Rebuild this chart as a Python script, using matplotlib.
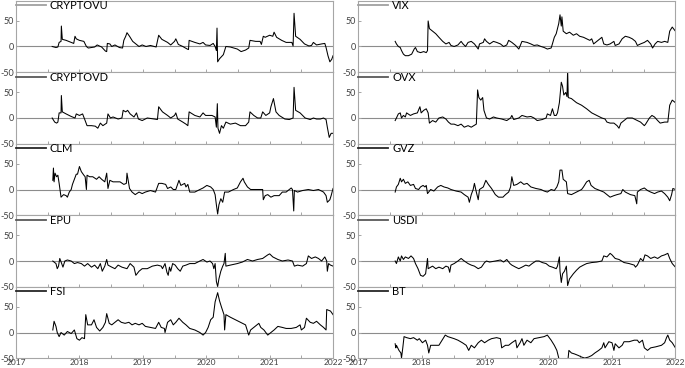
import matplotlib.pyplot as plt
import numpy as np

plt.rcParams['font.family'] = ['Lato', 'DejaVu Sans']
plt.rcParams['axes.unicode_minus'] = False

# (decimal year, value)
cryptovu = [(2017.57, 0), (2017.63, -2), (2017.66, -1), (2017.68, 8), (2017.71, 10), (2017.715, 40),
            (2017.73, 14), (2017.79, 12), (2017.87, 8), (2017.91, 6), (2017.93, 20), (2017.95, 15),
            (2018.00, 12), (2018.07, 10), (2018.11, 0), (2018.14, -3), (2018.24, -1), (2018.28, 3),
            (2018.35, -1), (2018.41, -9), (2018.43, -10), (2018.44, 6), (2018.48, 5), (2018.51, 0),
            (2018.56, 3), (2018.63, -2), (2018.68, -3), (2018.70, 12), (2018.73, 20), (2018.75, 27),
            (2018.79, 20), (2018.84, 10), (2018.89, 5), (2018.94, 0), (2018.99, 3), (2019.05, 0),
            (2019.12, 2), (2019.21, -1), (2019.25, 22), (2019.30, 14), (2019.39, 8), (2019.44, 3),
            (2019.50, 10), (2019.52, 15), (2019.56, 4), (2019.63, 0), (2019.70, -5), (2019.72, -6),
            (2019.73, 12), (2019.82, 8), (2019.90, 5), (2019.95, 8), (2019.99, 3), (2020.06, 2),
            (2020.11, 6), (2020.14, 0), (2020.16, -8), (2020.17, 36), (2020.18, -30), (2020.21, -24),
            (2020.27, -16), (2020.31, 0), (2020.38, -1), (2020.49, -5), (2020.55, -10), (2020.62, -7),
            (2020.67, -3), (2020.69, 12), (2020.78, 10), (2020.85, 10), (2020.87, 4), (2020.90, 20),
            (2020.93, 18), (2021.00, 22), (2021.05, 20), (2021.07, 28), (2021.11, 18), (2021.19, 12),
            (2021.26, 8), (2021.35, 8), (2021.37, 1), (2021.385, 65), (2021.41, 20), (2021.48, 14),
            (2021.55, 5), (2021.62, 1), (2021.66, 2), (2021.69, 8), (2021.74, 3), (2021.82, 5),
            (2021.87, 6), (2021.89, -2), (2021.92, -18), (2021.95, -30), (2021.98, -25), (2022.00, -18)]

cryptovd = [(2017.57, 0), (2017.61, -8), (2017.64, -10), (2017.66, -8), (2017.68, 10), (2017.71, 10),
            (2017.715, 44), (2017.73, 12), (2017.79, 8), (2017.87, 3), (2017.93, 0), (2017.95, 8),
            (2018.00, 5), (2018.05, 8), (2018.09, -5), (2018.12, -15), (2018.19, -15), (2018.25, -16),
            (2018.29, -20), (2018.33, -10), (2018.37, -15), (2018.43, -10), (2018.45, 8), (2018.49, 0),
            (2018.53, 2), (2018.61, -2), (2018.67, 0), (2018.69, 15), (2018.73, 12), (2018.76, 15),
            (2018.80, 8), (2018.86, 2), (2018.90, 10), (2018.93, -2), (2018.99, -5), (2019.07, 0),
            (2019.18, -2), (2019.23, -3), (2019.25, 22), (2019.31, 12), (2019.39, 5), (2019.44, 0),
            (2019.50, 5), (2019.52, 10), (2019.55, -2), (2019.63, -8), (2019.68, -12), (2019.71, -15),
            (2019.73, 12), (2019.82, 5), (2019.90, 2), (2019.95, 10), (2019.99, 5), (2020.09, 5),
            (2020.14, 2), (2020.16, -18), (2020.175, 28), (2020.185, -20), (2020.21, -30), (2020.24, -15),
            (2020.27, -20), (2020.31, -8), (2020.38, -12), (2020.46, -10), (2020.54, -15), (2020.62, -15),
            (2020.67, -8), (2020.69, 12), (2020.75, 5), (2020.81, 0), (2020.86, 0), (2020.89, 12),
            (2020.94, 5), (2021.00, 10), (2021.02, 22), (2021.06, 38), (2021.10, 12), (2021.15, 5),
            (2021.24, -2), (2021.31, -3), (2021.37, 0), (2021.385, 60), (2021.41, 15), (2021.48, 10),
            (2021.56, 0), (2021.64, -3), (2021.69, 0), (2021.74, -2), (2021.80, -2), (2021.85, 0),
            (2021.89, -3), (2021.91, -18), (2021.94, -38), (2021.97, -30), (2022.00, -30)]

clm = [(2017.58, 18), (2017.59, 42), (2017.60, 15), (2017.615, 32), (2017.64, 25), (2017.66, 28),
       (2017.68, 12), (2017.71, -15), (2017.75, -10), (2017.79, -12), (2017.81, -15), (2017.84, -5),
       (2017.87, 0), (2017.89, 10), (2017.92, 20), (2017.95, 30), (2017.97, 30), (2018.00, 45),
       (2018.03, 35), (2018.07, 28), (2018.09, 25), (2018.11, 0), (2018.12, 28), (2018.16, 25),
       (2018.21, 25), (2018.27, 20), (2018.31, 25), (2018.35, 20), (2018.40, 15), (2018.43, 32),
       (2018.45, 2), (2018.48, 18), (2018.53, 15), (2018.59, 15), (2018.64, 15), (2018.70, 10),
       (2018.74, 12), (2018.75, 32), (2018.79, 2), (2018.83, -5), (2018.88, -10), (2018.94, -5),
       (2018.99, -8), (2019.04, -5), (2019.12, -2), (2019.20, -5), (2019.25, 12), (2019.30, 12),
       (2019.36, 10), (2019.39, 2), (2019.44, 5), (2019.48, 0), (2019.52, 0), (2019.57, 18),
       (2019.60, 8), (2019.66, 12), (2019.68, 5), (2019.71, 10), (2019.74, -5), (2019.82, -5),
       (2019.90, 0), (2019.95, 3), (2020.01, 8), (2020.07, 5), (2020.11, 0), (2020.14, -10),
       (2020.16, -30), (2020.18, -48), (2020.20, -30), (2020.23, -18), (2020.26, -25), (2020.29, -5),
       (2020.35, -5), (2020.43, 0), (2020.49, 3), (2020.54, 15), (2020.58, 22), (2020.60, 15),
       (2020.65, 5), (2020.70, 0), (2020.81, 0), (2020.89, 0), (2020.90, -20), (2020.93, -12),
       (2020.97, -10), (2021.02, -15), (2021.07, -12), (2021.15, -12), (2021.20, -5), (2021.26, -5),
       (2021.34, 3), (2021.36, 0), (2021.38, -42), (2021.39, -2), (2021.44, -5), (2021.52, -2),
       (2021.61, 0), (2021.69, -2), (2021.77, 0), (2021.85, -5), (2021.89, -12), (2021.91, -25),
       (2021.95, -20), (2021.97, -12), (2022.00, 2)]

epu = [(2017.58, 0), (2017.63, -5), (2017.65, -15), (2017.67, -10), (2017.69, 5), (2017.72, -5),
       (2017.74, -12), (2017.77, 0), (2017.81, 2), (2017.87, 0), (2017.92, -5), (2017.97, -3),
       (2018.03, -5), (2018.08, -10), (2018.13, -5), (2018.19, -12), (2018.24, -8), (2018.29, -15),
       (2018.33, -5), (2018.36, -20), (2018.40, -10), (2018.43, 3), (2018.45, -8), (2018.51, -12),
       (2018.56, -15), (2018.61, -8), (2018.67, -12), (2018.75, -15), (2018.80, -5), (2018.86, -12),
       (2018.89, -28), (2018.94, -20), (2018.99, -15), (2019.07, -15), (2019.15, -10), (2019.23, -8),
       (2019.29, -10), (2019.31, -15), (2019.35, -5), (2019.38, -22), (2019.40, -28), (2019.42, -12),
       (2019.44, -20), (2019.47, -5), (2019.51, -8), (2019.55, -15), (2019.59, -20), (2019.63, -10),
       (2019.68, -8), (2019.74, -5), (2019.82, -5), (2019.90, 0), (2019.95, 3), (2020.01, -2),
       (2020.06, 0), (2020.10, -5), (2020.12, -15), (2020.14, -5), (2020.16, -40), (2020.18, -50),
       (2020.20, -35), (2020.23, -20), (2020.26, -10), (2020.28, -5), (2020.30, 15), (2020.31, -10),
       (2020.38, -8), (2020.49, -5), (2020.57, -2), (2020.65, 3), (2020.73, 0), (2020.81, 3),
       (2020.89, 5), (2020.97, 12), (2021.00, 14), (2021.05, 8), (2021.13, 3), (2021.20, 0),
       (2021.29, 2), (2021.36, 0), (2021.39, -10), (2021.44, -8), (2021.52, -10), (2021.58, -5),
       (2021.61, 10), (2021.66, 5), (2021.72, 8), (2021.77, 5), (2021.82, 0), (2021.87, 8),
       (2021.90, 0), (2021.91, -20), (2021.93, -5), (2021.96, -8), (2022.00, -10)]

fsi = [(2017.58, 5), (2017.60, 22), (2017.63, 12), (2017.65, 0), (2017.68, -8), (2017.71, 0),
       (2017.76, -5), (2017.81, 2), (2017.87, -2), (2017.92, 5), (2017.96, -12), (2018.00, -15),
       (2018.04, -10), (2018.08, -12), (2018.10, 35), (2018.13, 15), (2018.19, 15), (2018.23, 25),
       (2018.27, 10), (2018.32, 3), (2018.37, 10), (2018.41, 20), (2018.43, 37), (2018.47, 18),
       (2018.51, 15), (2018.56, 20), (2018.61, 25), (2018.66, 20), (2018.72, 18), (2018.78, 20),
       (2018.83, 15), (2018.88, 18), (2018.94, 15), (2018.99, 18), (2019.04, 12), (2019.12, 10),
       (2019.20, 8), (2019.25, 20), (2019.29, 10), (2019.34, 8), (2019.35, 0), (2019.39, 20),
       (2019.44, 25), (2019.48, 15), (2019.52, 20), (2019.57, 28), (2019.63, 20), (2019.68, 15),
       (2019.74, 8), (2019.82, 5), (2019.90, 0), (2019.95, -5), (2019.99, 0), (2020.03, 10),
       (2020.07, 25), (2020.11, 30), (2020.14, 60), (2020.18, 78), (2020.21, 62), (2020.24, 50),
       (2020.28, 35), (2020.29, 5), (2020.31, 35), (2020.38, 30), (2020.46, 25), (2020.54, 20),
       (2020.62, 15), (2020.67, -5), (2020.70, 5), (2020.75, 10), (2020.83, 18), (2020.86, 10),
       (2020.91, 5), (2020.97, -5), (2021.02, 0), (2021.07, 5), (2021.13, 12), (2021.20, 10),
       (2021.26, 8), (2021.34, 8), (2021.42, 10), (2021.48, 15), (2021.50, 5), (2021.55, 10),
       (2021.58, 28), (2021.64, 20), (2021.69, 18), (2021.74, 22), (2021.80, 15), (2021.85, 10),
       (2021.89, 5), (2021.90, 45), (2021.96, 42), (2022.00, 35)]

vix = [(2017.58, 10), (2017.60, 5), (2017.63, 0), (2017.66, -2), (2017.68, -8), (2017.71, -15),
       (2017.74, -18), (2017.79, -18), (2017.84, -15), (2017.88, -5), (2017.90, -2), (2017.93, -10),
       (2017.98, -12), (2018.03, -10), (2018.07, -12), (2018.09, -8), (2018.10, 50), (2018.12, 35),
       (2018.17, 30), (2018.22, 25), (2018.27, 18), (2018.33, 10), (2018.38, 5), (2018.43, 8),
       (2018.46, 2), (2018.51, 0), (2018.57, 3), (2018.62, 10), (2018.65, 5), (2018.69, 0),
       (2018.73, 8), (2018.78, 10), (2018.83, 5), (2018.89, -5), (2018.91, 5), (2018.97, 8),
       (2018.99, 15), (2019.02, 10), (2019.07, 5), (2019.13, 10), (2019.18, 8), (2019.24, 5),
       (2019.29, 0), (2019.34, 3), (2019.37, 12), (2019.42, 8), (2019.48, 2), (2019.53, -5),
       (2019.58, 10), (2019.66, 8), (2019.72, 5), (2019.77, 2), (2019.82, 3), (2019.88, 0),
       (2019.93, -2), (2019.98, -5), (2020.04, -3), (2020.06, 5), (2020.09, 18), (2020.12, 25),
       (2020.16, 45), (2020.18, 62), (2020.20, 40), (2020.21, 58), (2020.23, 30), (2020.28, 25),
       (2020.33, 28), (2020.39, 22), (2020.44, 25), (2020.49, 20), (2020.55, 18), (2020.60, 15),
       (2020.65, 12), (2020.68, 15), (2020.71, 5), (2020.76, 10), (2020.84, 18), (2020.87, 5),
       (2020.92, 3), (2020.97, 5), (2021.03, 10), (2021.05, 2), (2021.11, 5), (2021.16, 15),
       (2021.21, 20), (2021.27, 18), (2021.32, 15), (2021.37, 10), (2021.40, 2), (2021.45, 5),
       (2021.51, 8), (2021.56, 12), (2021.61, 5), (2021.64, -3), (2021.68, 5), (2021.72, 10),
       (2021.78, 8), (2021.83, 10), (2021.88, 8), (2021.91, 30), (2021.95, 38), (2022.00, 30)]

ovx = [(2017.58, -5), (2017.60, 0), (2017.63, 8), (2017.66, 10), (2017.68, 0), (2017.71, 5),
       (2017.74, 2), (2017.76, 10), (2017.82, 5), (2017.87, 8), (2017.93, 10), (2017.97, 22),
       (2017.99, 10), (2018.03, 15), (2018.07, 18), (2018.10, 10), (2018.12, -10), (2018.17, -5),
       (2018.22, -8), (2018.27, 0), (2018.33, 2), (2018.38, -2), (2018.42, -8), (2018.46, -12),
       (2018.51, -12), (2018.57, -15), (2018.62, -12), (2018.67, -18), (2018.73, -15), (2018.78, -18),
       (2018.82, -15), (2018.86, -12), (2018.88, 55), (2018.90, 40), (2018.93, 35), (2018.96, 40),
       (2018.98, 15), (2019.02, 0), (2019.07, -2), (2019.13, 2), (2019.18, 0), (2019.26, -2),
       (2019.34, -5), (2019.40, 0), (2019.42, 5), (2019.45, -3), (2019.53, 0), (2019.58, 5),
       (2019.66, 2), (2019.72, 3), (2019.77, 0), (2019.82, -5), (2019.90, -3), (2019.96, 0),
       (2019.98, 8), (2020.03, 5), (2020.06, 18), (2020.09, 5), (2020.12, 5), (2020.14, 10),
       (2020.17, 30), (2020.20, 70), (2020.22, 62), (2020.24, 45), (2020.27, 50), (2020.29, 42),
       (2020.30, 95), (2020.31, 40), (2020.36, 38), (2020.44, 30), (2020.52, 25), (2020.60, 18),
       (2020.68, 10), (2020.76, 5), (2020.84, 0), (2020.89, -2), (2020.92, -8), (2020.97, -10),
       (2021.03, -10), (2021.08, -15), (2021.11, -20), (2021.14, -10), (2021.19, -5), (2021.24, 0),
       (2021.32, 0), (2021.40, -5), (2021.45, -8), (2021.51, -15), (2021.53, -12), (2021.59, 0),
       (2021.63, 5), (2021.67, 2), (2021.72, -5), (2021.76, -10), (2021.83, -8), (2021.88, -8),
       (2021.91, 25), (2021.95, 35), (2022.00, 30)]

gvz = [(2017.58, -5), (2017.60, 5), (2017.63, 10), (2017.66, 22), (2017.68, 15), (2017.71, 20),
       (2017.74, 12), (2017.78, 15), (2017.82, 8), (2017.87, 10), (2017.90, 2), (2017.95, 0),
       (2017.98, 5), (2018.02, 8), (2018.05, 5), (2018.07, 8), (2018.09, -8), (2018.14, 0),
       (2018.19, -3), (2018.25, 5), (2018.30, 8), (2018.35, 5), (2018.41, 3), (2018.46, 0),
       (2018.54, -3), (2018.62, -5), (2018.67, -10), (2018.73, -15), (2018.75, -25), (2018.78, -10),
       (2018.81, 0), (2018.83, 12), (2018.86, -5), (2018.89, -20), (2018.91, 0), (2018.97, 5),
       (2019.01, 18), (2019.05, 10), (2019.10, 2), (2019.16, -10), (2019.21, -15), (2019.28, -15),
       (2019.32, -10), (2019.37, -5), (2019.40, 5), (2019.42, 25), (2019.45, 8), (2019.50, 10),
       (2019.56, 15), (2019.61, 10), (2019.66, 12), (2019.72, 5), (2019.80, 2), (2019.88, 0),
       (2019.93, -3), (2019.98, -5), (2020.04, 0), (2020.09, -2), (2020.13, 5), (2020.16, 15),
       (2020.18, 38), (2020.21, 38), (2020.23, 20), (2020.28, 15), (2020.30, -8), (2020.36, -10),
       (2020.44, -5), (2020.52, 0), (2020.55, 5), (2020.60, 15), (2020.64, 18), (2020.67, 8),
       (2020.73, 2), (2020.81, -2), (2020.87, -5), (2020.92, -10), (2020.97, -15), (2021.03, -12),
       (2021.08, -10), (2021.14, -8), (2021.17, 0), (2021.21, -5), (2021.29, -10), (2021.36, -12),
       (2021.39, -28), (2021.40, -5), (2021.45, 0), (2021.51, 3), (2021.56, -2), (2021.61, -5),
       (2021.67, -8), (2021.72, -5), (2021.78, -3), (2021.83, -8), (2021.88, -15), (2021.91, -22),
       (2021.94, -10), (2021.96, 2), (2022.00, 0)]

usdi = [(2017.58, 0), (2017.60, -5), (2017.63, 8), (2017.66, 0), (2017.68, 10), (2017.71, 3),
        (2017.74, 8), (2017.79, 5), (2017.83, 10), (2017.87, 5), (2017.90, -5), (2017.94, -15),
        (2017.98, -28), (2018.02, -30), (2018.06, -25), (2018.09, 5), (2018.10, -15), (2018.17, -10),
        (2018.22, -15), (2018.27, -12), (2018.33, -15), (2018.38, -10), (2018.42, -12), (2018.44, -22),
        (2018.46, -8), (2018.51, -5), (2018.57, 0), (2018.62, 5), (2018.67, 0), (2018.73, -5),
        (2018.78, -8), (2018.83, -10), (2018.89, -15), (2018.94, -12), (2018.99, -3), (2019.02, 0),
        (2019.07, -2), (2019.16, 0), (2019.24, 2), (2019.29, -2), (2019.34, 3), (2019.39, -5),
        (2019.42, -8), (2019.48, -12), (2019.53, -15), (2019.58, -12), (2019.64, -8), (2019.69, -10),
        (2019.74, -5), (2019.80, 0), (2019.85, 0), (2019.90, -3), (2019.96, -5), (2020.01, -10),
        (2020.06, -12), (2020.12, -15), (2020.14, -10), (2020.17, 8), (2020.18, -20), (2020.20, -42),
        (2020.22, -25), (2020.25, -20), (2020.28, -10), (2020.30, -48), (2020.33, -35), (2020.39, -25),
        (2020.44, -18), (2020.49, -12), (2020.55, -8), (2020.60, -5), (2020.68, -3), (2020.76, -2),
        (2020.84, 0), (2020.87, 10), (2020.92, 8), (2020.97, 15), (2021.00, 12), (2021.05, 5),
        (2021.11, 3), (2021.19, -3), (2021.27, -5), (2021.35, -8), (2021.37, -12), (2021.40, -8),
        (2021.45, 5), (2021.49, 0), (2021.52, 12), (2021.56, 10), (2021.61, 5), (2021.67, 8),
        (2021.72, 5), (2021.78, 10), (2021.83, 12), (2021.88, 15), (2021.91, 5), (2021.95, -5),
        (2022.00, -12)]

bt = [(2017.58, -22), (2017.59, -30), (2017.60, -25), (2017.64, -35), (2017.67, -40), (2017.68, -50),
      (2017.70, -30), (2017.72, -8), (2017.76, -10), (2017.82, -12), (2017.87, -10), (2017.93, -15),
      (2017.96, -12), (2018.01, -20), (2018.06, -15), (2018.09, -25), (2018.11, -40), (2018.14, -25),
      (2018.19, -25), (2018.27, -25), (2018.32, -15), (2018.37, -5), (2018.41, -8), (2018.46, -10),
      (2018.51, -12), (2018.57, -15), (2018.64, -20), (2018.70, -25), (2018.74, -35), (2018.78, -25),
      (2018.83, -30), (2018.89, -20), (2018.94, -15), (2018.99, -20), (2019.05, -15), (2019.10, -12),
      (2019.18, -10), (2019.24, -12), (2019.26, -30), (2019.32, -25), (2019.37, -25), (2019.42, -20),
      (2019.48, -15), (2019.50, -30), (2019.55, -20), (2019.58, -12), (2019.61, -25), (2019.66, -15),
      (2019.72, -20), (2019.77, -12), (2019.85, -10), (2019.93, -8), (2019.98, -5), (2020.04, -15),
      (2020.09, -25), (2020.13, -35), (2020.16, -50), (2020.18, -60), (2020.30, -60), (2020.32, -35),
      (2020.36, -40), (2020.41, -42), (2020.47, -45), (2020.52, -48), (2020.57, -50), (2020.63, -48),
      (2020.68, -45), (2020.73, -40), (2020.79, -35), (2020.84, -30), (2020.87, -20), (2020.89, -30),
      (2020.95, -18), (2021.00, -20), (2021.03, -35), (2021.05, -22), (2021.11, -30), (2021.16, -25),
      (2021.19, -18), (2021.27, -18), (2021.35, -15), (2021.40, -15), (2021.43, -20), (2021.48, -15),
      (2021.51, -30), (2021.56, -35), (2021.61, -30), (2021.69, -28), (2021.78, -25), (2021.83, -20),
      (2021.86, -10), (2021.88, -5), (2021.91, -15), (2021.95, -20), (2022.00, -30)]

left_names = ["CRYPTOVU", "CRYPTOVD", "CLM", "EPU", "FSI"]
right_names = ["VIX", "OVX", "GVZ", "USDI", "BT"]
left_data = [cryptovu, cryptovd, clm, epu, fsi]
right_data = [vix, ovx, gvz, usdi, bt]
left_handle = ["#a0a0a0", "#595959", "#262626", "#595959", "#262626"]
right_handle = ["#a0a0a0", "#595959", "#262626", "#595959", "#262626"]

fig = plt.figure(figsize=(6.85, 3.68), dpi=100)
gs = fig.add_gridspec(5, 2, left=0.0234, right=0.986, bottom=0.027, top=0.9986,
                      hspace=0, wspace=0.08)

spine_col = "#a6a6a6"

for col, (names, datas, hcols) in enumerate([(left_names, left_data, left_handle),
                                             (right_names, right_data, right_handle)]):
    for row in range(5):
        ax = fig.add_subplot(gs[row, col])
        t, v = zip(*datas[row])
        ax.axhline(0, color="#8c8c8c", lw=0.8, zorder=1)
        ax.plot(t, v, color="black", lw=0.75, zorder=2)
        ax.plot([], [], color=hcols[row], lw=1.3, label=names[row])
        handles, labels = ax.get_legend_handles_labels()
        ax.legend(handles[-1:], labels[-1:], loc="upper left", bbox_to_anchor=(0, 1.005),
                  frameon=False, borderaxespad=0, borderpad=0, handlelength=2.7,
                  handletextpad=0.35, fontsize=8)
        ax.set_xlim(2017, 2022)
        ax.set_ylim(-50, 90)
        ax.set_yticks([-50, 0, 50])
        ax.set_xticks(np.arange(2017, 2022.01, 1))
        ax.set_xticks(np.arange(2017.5, 2022, 1), minor=True)
        for s in ax.spines.values():
            s.set_color(spine_col)
            s.set_linewidth(0.8)
        ax.tick_params(axis="both", which="both", direction="in", color=spine_col,
                       length=2.5, width=0.7, labelsize=6.5, labelcolor="#404040", pad=1.5)
        ax.tick_params(axis="x", which="both", top=False, labelsize=6)
        if row < 4:
            ax.tick_params(axis="x", labelbottom=False)
        else:
            ax.tick_params(axis="x", pad=1)

fig.savefig("out.png", dpi=100)
